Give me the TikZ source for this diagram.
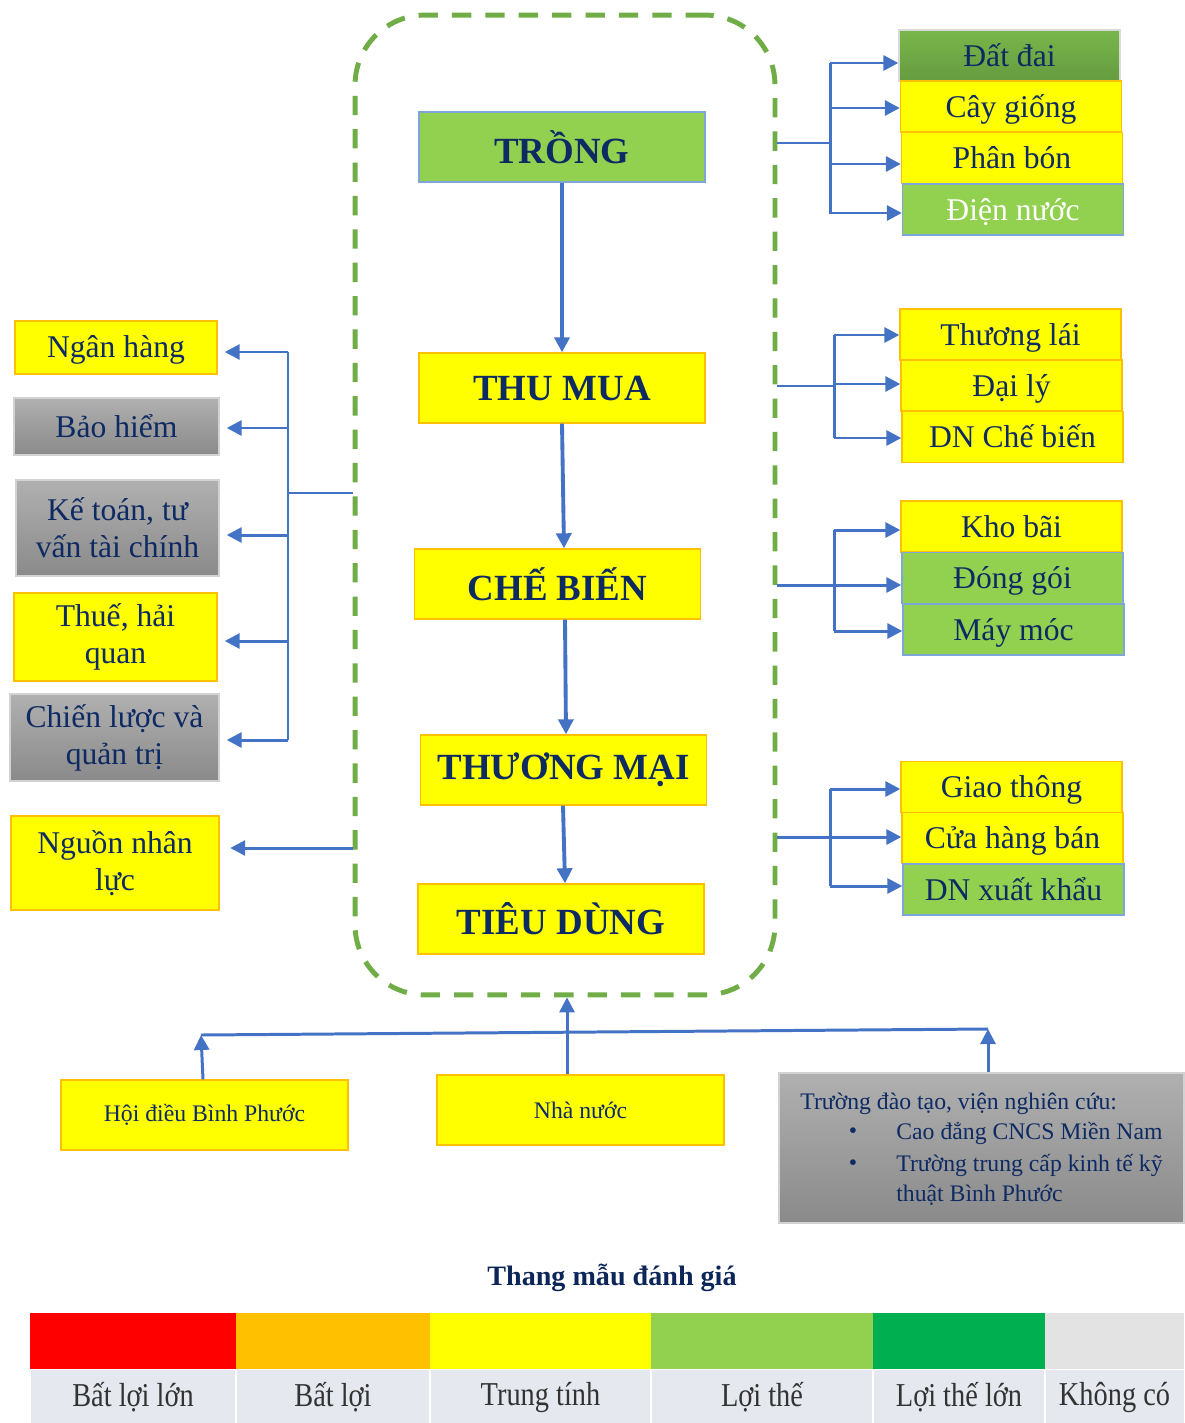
\documentclass[tikz,border=0pt]{standalone}
\usepackage{fontspec}
\setmainfont{Liberation Serif}
\newfontfamily\hepfont[FakeStretch=0.85]{Liberation Serif}
\usetikzlibrary{arrows.meta}

\definecolor{chu}{HTML}{0E2A63}
\definecolor{xanhla}{HTML}{92D050}
\definecolor{vang}{HTML}{FFFF00}
\definecolor{cam}{HTML}{FFC000}
\definecolor{xanhduong}{HTML}{4472C4}
\definecolor{khung}{HTML}{70AD47}
\definecolor{vienxanh}{HTML}{7EA6D8}
\definecolor{xamtren}{HTML}{B0B0B0}
\definecolor{xamduoi}{HTML}{8A8A8A}
\definecolor{ladam}{HTML}{00B050}
\definecolor{nenhang}{HTML}{E6E8F0}

\newcommand\cochinh{\fontsize{21}{24}\selectfont\bfseries}
\newcommand\covua{\fontsize{18}{21}\selectfont}
\newcommand\conho{\fontsize{13.5}{16}\selectfont}

\tikzset{
  hop/.style={rectangle, line width=0.8pt, text=chu, align=center, inner sep=0pt},
  vanghop/.style={hop, fill=vang, draw=cam},
  xanhhop/.style={hop, fill=xanhla, draw=vienxanh},
  xamhop/.style={hop, top color=xamtren, bottom color=xamduoi, draw=gray!35},
  datbox/.style={hop, top color=khung!75!xanhla, bottom color=khung!90!black, draw=gray!30},
  phai/.style={minimum width=4.42cm, minimum height=1.02cm, font=\covua, text height=1.4em, text depth=0.15em},
  giua/.style={minimum width=5.72cm, minimum height=1.4cm, font=\cochinh},
  noi/.style={draw=xanhduong, line width=1.7pt},
  arr/.style={noi, -{Triangle[length=0.3cm,width=0.3cm]}},
  mainarr/.style={draw=xanhduong, line width=2.2pt, -{Triangle[length=0.3cm,width=0.3cm]}},
  nhan/.style={font=\hepfont\fontsize{19}{22}\selectfont, text=black!80}
}

\begin{document}
\begin{tikzpicture}[x=0.02cm,y=-0.02cm]
\useasboundingbox (0,0) rectangle (1184,1423);
\fill[white] (0,0) rectangle (1184,1423);

% chuoi gia tri o giua
\node[draw=khung, line width=2.8pt, dash pattern=on 11pt off 8pt,
      rounded corners=1.4cm, minimum width=8.4cm, minimum height=19.6cm] (chuoi) at (565,505) {};

\node[xanhhop, giua] (trong) at (562,147) {TRỒNG};
\node[vanghop, giua] (thumua) at (562,388) {THU MUA};
\node[vanghop, giua] (chebien) at (557.5,584) {CHẾ BIẾN};
\node[vanghop, giua] (thuongmai) at (563.5,770) {THƯƠNG MẠI};
\node[vanghop, giua] (tieudung) at (561,919) {TIÊU DÙNG};

\draw[mainarr] (trong.south) -- (thumua.north);
\draw[mainarr] (thumua.south) -- (chebien.north -| 564,0);
\draw[mainarr] (chebien.south -| 565,0) -- (thuongmai.north -| 566,0);
\draw[mainarr] (thuongmai.south -| 563,0) -- (tieudung.north -| 565,0);

% ben phai
\node[datbox, phai] (dat) at (1009.5,55.5) {Đất đai};
\node[vanghop, phai] (cay) at (1011,106.5) {Cây giống};
\node[vanghop, phai] (phan) at (1012,158) {Phân bón};
\node[xanhhop, phai, text=white] (dien) at (1013,209.5) {Điện nước};

\node[vanghop, phai] (lai) at (1010.5,334.5) {Thương lái};
\node[vanghop, phai] (daily) at (1011.5,385.5) {Đại lý};
\node[vanghop, phai] (dncb) at (1012.5,437) {DN Chế biến};

\node[vanghop, phai] (kho) at (1011.5,526.5) {Kho bãi};
\node[xanhhop, phai] (donggoi) at (1012.5,578) {Đóng gói};
\node[xanhhop, phai] (may) at (1013.5,629.5) {Máy móc};

\node[vanghop, phai] (giao) at (1011.5,787) {Giao thông};
\node[vanghop, phai] (cuahang) at (1012.5,838) {Cửa hàng bán};
\node[xanhhop, phai] (xuatkhau) at (1013.5,889.5) {DN xuất khẩu};

\draw[noi] (chuoi.east |- 0,143) -- (830,143);
\draw[noi] (830,63) -- (830,214);
\foreach \b/\y in {dat/63,cay/108,phan/164,dien/213}
  \draw[arr] (830,\y) -- (\b.west |- 0,\y);

\draw[noi] (chuoi.east |- 0,386) -- (834,386);
\draw[noi] (834,335) -- (834,438);
\foreach \b/\y in {lai/335,daily/384,dncb/438}
  \draw[arr] (834,\y) -- (\b.west |- 0,\y);

\draw[noi] (chuoi.east |- 0,585) -- (834,585);
\draw[noi] (834,530) -- (834,631);
\foreach \b/\y in {kho/530,donggoi/585,may/631}
  \draw[arr] (834,\y) -- (\b.west |- 0,\y);

\draw[noi] (chuoi.east |- 0,837) -- (830,837);
\draw[noi] (830,789) -- (830,886);
\foreach \b/\y in {giao/789,cuahang/837,xuatkhau/886}
  \draw[arr] (830,\y) -- (\b.west |- 0,\y);

% ben trai
\node[vanghop, font=\covua, minimum width=4.04cm, minimum height=1.06cm, text height=1.3em, text depth=0.15em] (nganhang) at (116,347.5) {Ngân hàng};
\node[xamhop, font=\covua, minimum width=4.1cm, minimum height=1.14cm] (baohiem) at (116.5,426.5) {Bảo hiểm};
\node[xamhop, font=\covua, minimum width=4.06cm, minimum height=1.92cm] (ketoan) at (117.5,528) {Kế toán, tư\\vấn tài chính};
\node[vanghop, font=\covua, minimum width=4.06cm, minimum height=1.76cm] (thue) at (115.5,637) {Thuế, hải\\quan};
\node[xamhop, font=\covua, minimum width=4.18cm, minimum height=1.74cm] (chienluoc) at (114.5,737.5) {Chiến lược và\\quản trị};
\node[vanghop, font=\covua, minimum width=4.16cm, minimum height=1.88cm] (nguon) at (115,863) {Nguồn nhân\\lực};

\draw[noi] (chuoi.west |- 0,493) -- (288,493);
\draw[noi] (288,352) -- (288,740);
\foreach \b/\y in {nganhang/352,baohiem/428,ketoan/535,thue/641,chienluoc/740}
  \draw[arr] (288,\y) -- ([xshift=4pt]\b.east |- 0,\y);
\draw[arr] (chuoi.west |- 0,848) -- ([xshift=6pt]nguon.east |- 0,848);

% ben duoi
\node[vanghop, font=\conho, minimum width=5.74cm, minimum height=1.4cm] (hoidieu) at (204.5,1115) {Hội điều Bình Phước};
\node[vanghop, font=\conho, minimum width=5.74cm, minimum height=1.4cm] (nhanuoc) at (580.5,1110) {Nhà nước};
\node[xamhop, minimum width=8.1cm, minimum height=3cm] (truong) at (981.5,1148) {};
\node[anchor=west, font=\conho, text=chu, inner sep=0pt] (tr0) at (800,1104) {Trường đào tạo, viện nghiên cứu:};
\node[font=\conho, text=chu, inner sep=0pt] (bl1) at (853,1133) {•};
\node[font=\conho, text=chu, inner sep=0pt] (bl2) at (853,1165) {•};
\node[anchor=west, font=\conho, text=chu, inner sep=0pt] (tr1) at (896,1133) {Cao đẳng CNCS Miền Nam};
\node[anchor=west, font=\conho, text=chu, inner sep=0pt] (tr2) at (896,1165) {Trường trung cấp kinh tế kỹ};
\node[anchor=west, font=\conho, text=chu, inner sep=0pt] (tr3) at (896,1195) {thuật Bình Phước};

\coordinate (traiduoi) at (201,1035);
\coordinate (phaiduoi) at (988,1029);
\draw[noi] (traiduoi) -- (phaiduoi);
\draw[arr] (hoidieu.north -| 203,0) -- (traiduoi);
\draw[arr] (nhanuoc.north -| 567,0) -- (chuoi.south -| 567,0);
\draw[arr] (truong.north -| 988,0) -- (phaiduoi);

% thang mau
\node[font=\fontsize{16}{19}\selectfont\bfseries, text=chu!90!black] (thang) at (612,1278) {Thang mẫu đánh giá};
\foreach \a/\b/\m/\t in {30/236/red/Bất lợi lớn, 236/430/cam/Bất lợi, 430/651/vang/Trung tính,
                        651/873/xanhla/Lợi thế, 873/1045/ladam/Lợi thế lớn, 1045/1184/gray!22/Không có}{
  \fill[\m] (\a,1313) rectangle (\b,1369);
  \fill[nenhang] (\a,1370) rectangle (\b,1423);
  \draw[white, line width=1.5pt] (\a,1370) -- (\a,1423);
  \node[nhan] at ({(\a+\b)/2},1397) {\t};
}
\end{tikzpicture}
\end{document}
